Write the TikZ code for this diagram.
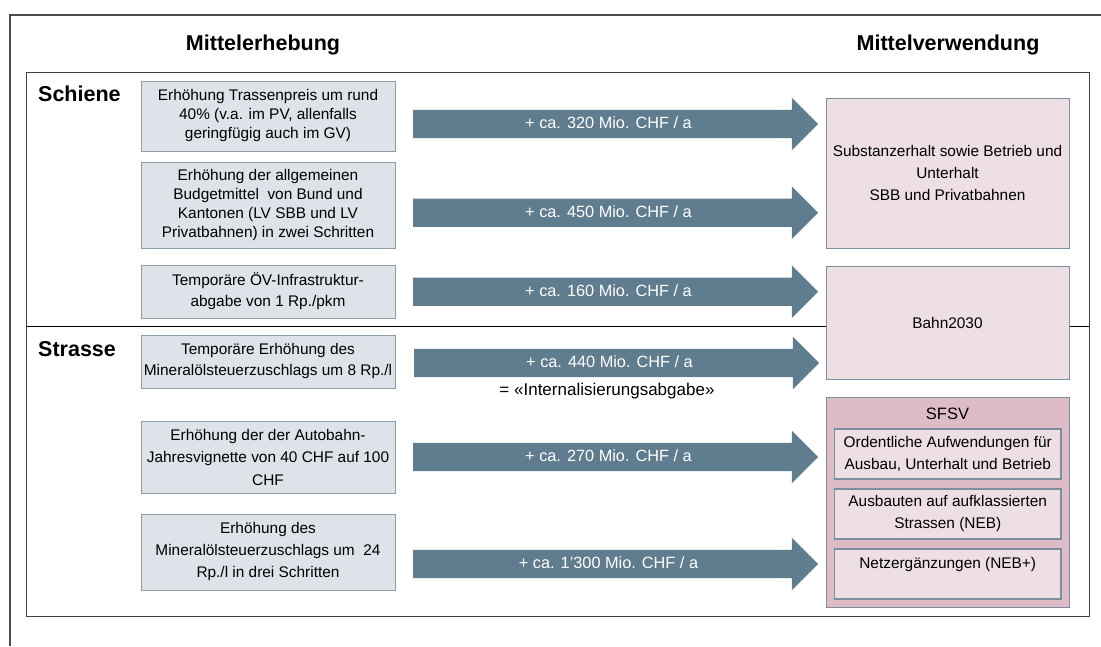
\documentclass[tikz,border=0pt]{standalone}
\usepackage{fontspec}
\setmainfont{Liberation Sans}
\usetikzlibrary{shapes.arrows}

\definecolor{srcfill}{RGB}{221,227,232}
\definecolor{srcline}{RGB}{140,157,170}
\definecolor{flowblue}{RGB}{95,125,142}
\definecolor{usefill}{RGB}{237,223,227}
\definecolor{sfsvfill}{RGB}{221,188,199}
\definecolor{useline}{RGB}{122,142,160}

\begin{document}
\begin{tikzpicture}[x=1pt,y=-1pt,
  srcbox/.style={draw=srcline,fill=srcfill,line width=0.9pt,minimum width=254pt,
    inner sep=0pt,align=center,font=\fontsize{15.4}{#1}\selectfont},
  srcbox/.default=19,
  usebox/.style={draw=useline,fill=usefill,line width=0.9pt,minimum width=243pt,
    inner sep=0pt,align=center,font=\fontsize{15.4}{22}\selectfont},
  subbox/.style={usebox,line width=1.1pt,minimum width=226.5pt,minimum height=50pt},
  flow/.style={single arrow,fill=flowblue,draw=none,minimum height=405pt,
    single arrow head extend=12pt,text height=12pt,text depth=3pt,
    inner ysep=6.5pt,inner xsep=2pt,text=white,font=\fontsize{16.3}{20}\selectfont},
  heading/.style={font=\fontsize{21.5}{24}\selectfont\bfseries,inner sep=0pt}]
  %\draw[help lines] (0,0) grid[step=50] (1101,646);
  \useasboundingbox (0,0) rectangle (1101,646);

  % frames
  \draw[line width=1.3pt,black!70] (10,646) -- (10,15) -- (1101,15);
  \draw[line width=1pt,black!75] (26.5,72) rectangle (1089,616);
  \draw[line width=1.4pt,black] (26.5,326.5) -- (1089,326.5);

  \node[heading] (tsrc) at (263,45) {Mittelerhebung};
  \node[heading] (tuse) at (948,45) {Mittelverwendung};
  \node[heading,anchor=west] (rail) at (38,94) {Schiene};
  \node[heading,anchor=west] (road) at (38,349) {Strasse};

  % Mittelerhebung
  \node[srcbox,minimum height=70pt] (s1) at (268,116)
    {Erhöhung Trassenpreis um rund\\40\% (v.a. im PV, allenfalls\\geringfügig auch im GV)};
  \node[srcbox,minimum height=86pt] (s2) at (268,205)
    {Erhöhung der allgemeinen\\Budgetmittel\ \ von Bund und\\Kantonen (LV SBB und LV\\Privatbahnen) in zwei Schritten};
  \node[srcbox=21,minimum height=53pt] (s3) at (268,291.5)
    {Temporäre ÖV-Infrastruktur-\\abgabe von 1 Rp./pkm};
  \node[srcbox=21,minimum height=53pt] (s4) at (268,361.5)
    {Temporäre Erhöhung des\\Mineralölsteuerzuschlags um 8 Rp./l};
  \node[srcbox=22.5,minimum height=72pt] (s5) at (268,457)
    {Erhöhung der der Autobahn-\\Jahresvignette von 40 CHF auf 100\\CHF};
  \node[srcbox=22,minimum height=76pt] (s6) at (268,552)
    {Erhöhung des\\Mineralölsteuerzuschlags um\ \ 24\\Rp./l in drei Schritten};

  % Mittelverwendung
  \node[usebox,minimum height=150pt] (u1) at (947.5,173)
    {Substanzerhalt sowie Betrieb und\\Unterhalt\\SBB und Privatbahnen};
  \node[usebox,minimum height=113pt] (u2) at (947.5,322.5) {Bahn2030};
  \node[usebox,fill=sfsvfill,minimum height=210pt] (sfsv) at (947.5,502) {};
  \node[font=\fontsize{16.5}{20}\selectfont] (sfsvt) at (947.5,414) {SFSV};
  \node[subbox] (v1) at (947.75,454)
    {Ordentliche Aufwendungen für\\Ausbau, Unterhalt und Betrieb};
  \node[subbox] (v2) at (947.75,514)
    {Ausbauten auf aufklassierten\\Strassen (NEB)};
  \node[subbox] (v3) at (947.75,574)
    {Netzergänzungen (NEB+)\\\mbox{}};

  % Mittelfluss
  \node[flow] (f1) at (608.5,124)   {+ ca. 320 Mio. CHF / a};
  \node[flow] (f2) at (608.5,212.7) {+ ca. 450 Mio. CHF / a};
  \node[flow] (f3) at (608.5,291.7) {+ ca. 160 Mio. CHF / a};
  \node[flow] (f4) at (609.5,363)   {+ ca. 440 Mio. CHF / a};
  \node[flow] (f5) at (608.5,457)   {+ ca. 270 Mio. CHF / a};
  \node[flow] (f6) at (608.5,564)   {+ ca. 1'300 Mio. CHF / a};
  \node[font=\fontsize{17}{20}\selectfont] (ilabel) at (607,391)
    {= «Internalisierungsabgabe»};

\end{tikzpicture}
\end{document}
